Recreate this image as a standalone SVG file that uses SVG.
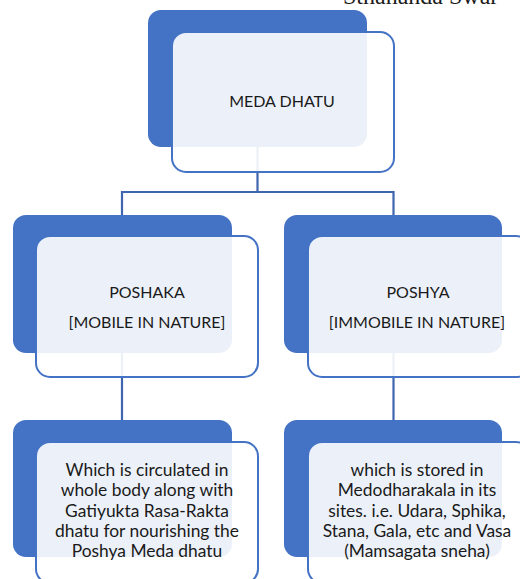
<svg xmlns="http://www.w3.org/2000/svg" width="520" height="579" viewBox="0 0 520 579">
<style>
.back{fill:#4472C4;}
.front{fill:#FFFFFF;fill-opacity:0.9;stroke:#4472C4;stroke-width:2;}
.conn{fill:none;stroke:#3F65AE;stroke-width:2.2;}
.t{font-family:Lato,"Liberation Sans",sans-serif;font-size:17.4px;fill:#1A1A1A;text-anchor:middle;}
.caps{font-size:16px;}
.hdr{font-family:"Liberation Serif",serif;font-size:24px;fill:#1A1A1A;}
</style>
<rect width="520" height="579" fill="#FFFFFF"/>
<text class="hdr" x="343" y="4">Sthananda Swar</text>
<g id="connectors">
<path class="conn" d="M257.5,147 V192 M122,192 H394 M122,191 V216 M393.5,191 V216"/>
<path class="conn" d="M122,353 V420 M393.5,353 V420"/>
</g>
<g id="meda-dhatu">
<rect class="back" x="148" y="10" width="219" height="137" rx="13"/>
<rect class="front" x="172" y="32" width="222" height="140" rx="14"/>
<text class="t caps" x="282" y="107">MEDA DHATU</text>
</g>
<g id="poshaka">
<rect class="back" x="13" y="215" width="219" height="138" rx="13"/>
<rect class="front" x="36" y="236" width="222" height="141" rx="14"/>
<text class="t caps" x="147" y="298">POSHAKA</text>
<text class="t caps" x="147" y="328">[MOBILE IN NATURE]</text>
</g>
<g id="poshya">
<rect class="back" x="284" y="215" width="218" height="138" rx="13"/>
<rect class="front" x="308" y="236" width="222" height="141" rx="14"/>
<text class="t caps" x="418" y="298">POSHYA</text>
<text class="t caps" x="417" y="328">[IMMOBILE IN NATURE]</text>
</g>
<g id="poshaka-desc">
<rect class="back" x="13" y="420" width="219" height="137" rx="13"/>
<rect class="front" x="36" y="442" width="222" height="141" rx="14"/>
<text class="t" x="147" y="476">Which is circulated in</text>
<text class="t" x="147" y="496">whole body along with</text>
<text class="t" x="147" y="517">Gatiyukta Rasa-Rakta</text>
<text class="t" x="147" y="537">dhatu for nourishing the</text>
<text class="t" x="147" y="557">Poshya Meda dhatu</text>
</g>
<g id="poshya-desc">
<rect class="back" x="284" y="420" width="218" height="137" rx="13"/>
<rect class="front" x="308" y="442" width="222" height="141" rx="14"/>
<text class="t" x="417" y="476">which is stored in</text>
<text class="t" x="417" y="496">Medodharakala in its</text>
<text class="t" x="417" y="517">sites. i.e. Udara, Sphika,</text>
<text class="t" x="417" y="537">Stana, Gala, etc and Vasa</text>
<text class="t" x="417" y="557">(Mamsagata sneha)</text>
</g>
</svg>
